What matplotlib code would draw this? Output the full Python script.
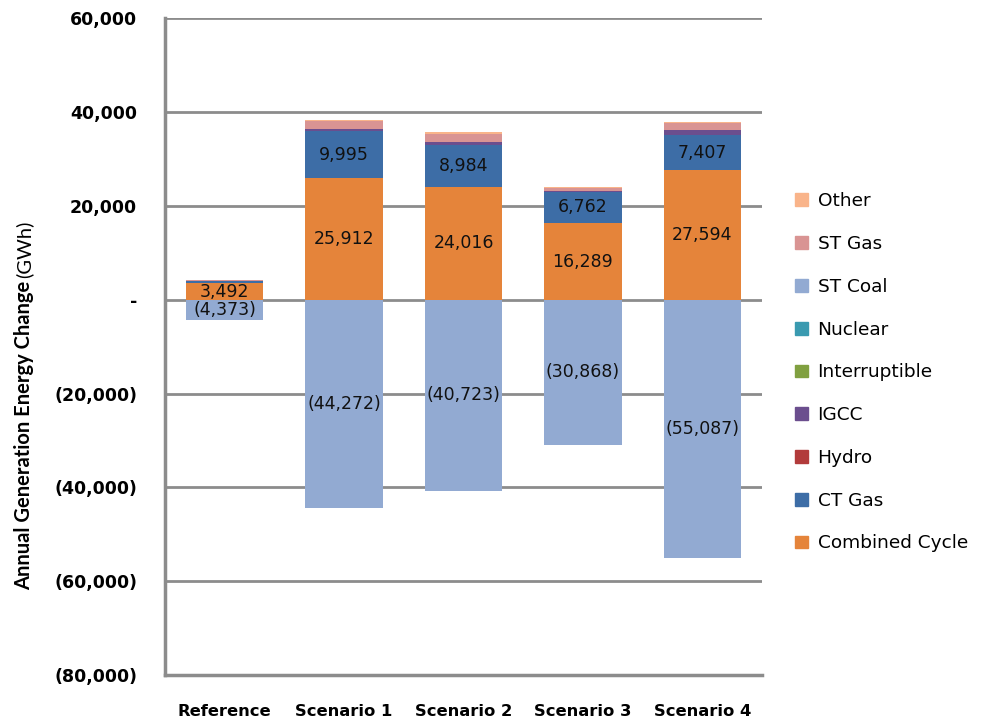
import numpy as np
import matplotlib.pyplot as plt
from matplotlib.ticker import FuncFormatter
from matplotlib.patches import Patch

plt.rcParams['font.family'] = ['DejaVu Sans']

scenarios = ['Reference', 'Scenario 1', 'Scenario 2', 'Scenario 3', 'Scenario 4']

# stacking order from the bottom up (positive side)
series = ['Combined Cycle', 'CT Gas', 'Hydro', 'IGCC', 'Interruptible',
          'Nuclear', 'ST Coal', 'ST Gas', 'Other']
combined_cycle = [3492, 25912, 24016, 16289, 27594]
ct_gas = [600, 9995, 8984, 6762, 7407]
hydro = [0, 0, 0, 0, 0]
igcc = [0, 500, 550, 200, 1200]
interruptible = [0, 0, 0, 0, 0]
nuclear = [0, 0, 0, 0, 0]
st_coal = [-4373, -44272, -40723, -30868, -55087]
st_gas = [200, 1600, 1800, 500, 1400]
other = [0, 200, 350, 300, 300]

colors = {
    'Combined Cycle': '#E5843A',
    'CT Gas': '#3D6DA6',
    'Hydro': '#B23B3B',
    'IGCC': '#6B4E8E',
    'Interruptible': '#80A040',
    'Nuclear': '#3A9AB0',
    'ST Coal': '#92AAD2',
    'ST Gas': '#D99493',
    'Other': '#F9B48A',
}
values = {
    'Combined Cycle': combined_cycle, 'CT Gas': ct_gas, 'Hydro': hydro,
    'IGCC': igcc, 'Interruptible': interruptible, 'Nuclear': nuclear,
    'ST Coal': st_coal, 'ST Gas': st_gas, 'Other': other,
}
labelled = ['Combined Cycle', 'CT Gas', 'ST Coal']


def fmt(v, pos=None):
    if v == 0:
        return '-'
    if v < 0:
        return '({:,.0f})'.format(-v)
    return '{:,.0f}'.format(v)


fig = plt.figure(figsize=(9.82, 7.26), dpi=100)
ax = fig.add_axes([0.168, 0.070, 0.608, 0.905])

x = np.arange(len(scenarios))
width = 0.65
pos_base = np.zeros(len(scenarios))
neg_base = np.zeros(len(scenarios))

for name in series:
    v = np.array(values[name], dtype=float)
    bottom = np.where(v >= 0, pos_base, neg_base)
    bars = ax.bar(x, v, width, bottom=bottom, color=colors[name], zorder=3)
    if name in labelled:
        for i, b in enumerate(bars):
            if abs(v[i]) >= 2000:
                ax.text(b.get_x() + b.get_width() / 2, bottom[i] + v[i] / 2,
                        fmt(v[i]), ha='center', va='center',
                        fontsize=12.5, color='#111111', zorder=4)
    pos_base = pos_base + np.where(v > 0, v, 0)
    neg_base = neg_base + np.where(v < 0, v, 0)

ax.set_xlim(-0.5, 4.5)
ax.set_ylim(-80000, 60000)
ax.set_yticks(np.arange(-80000, 60001, 20000))
ax.yaxis.set_major_formatter(FuncFormatter(fmt))
ax.set_xticks(x)
ax.set_xticklabels(scenarios, fontweight='bold', fontsize=11.8)
for t in ax.get_yticklabels():
    t.set_fontweight('bold')
    t.set_fontsize(12.5)
ax.tick_params(axis='y', length=0, pad=20)
ax.tick_params(axis='x', length=0, pad=21)

ax.grid(axis='y', color='#8C8C8C', linewidth=2, zorder=1)
for s in ['top', 'right']:
    ax.spines[s].set_visible(False)
for s in ['left', 'bottom']:
    ax.spines[s].set_color('#8C8C8C')
    ax.spines[s].set_linewidth(2.5)

# y label: bold part plus regular "(GWh)"
lab1 = fig.text(0.0245, 1 - 590 / 726, 'Annual Generation Energy Change',
                rotation=90, ha='center', va='bottom', fontsize=14.5,
                fontweight='bold', family='Lato')
fig.canvas.draw()
bb = lab1.get_window_extent().transformed(fig.transFigure.inverted())
fig.text(0.0245, bb.y1 + 0.004, '(GWh)', rotation=90, ha='center', va='bottom',
         fontsize=14.5, family='Lato')

handles = [Patch(color=colors[n], label=n) for n in series[::-1]]
fig.legend(handles=handles, loc='center left', bbox_to_anchor=(0.793, 0.487),
           frameon=False, fontsize=13.3, labelspacing=1.34,
           handlelength=0.7, handleheight=0.7, handletextpad=0.5)

fig.savefig('out.png', dpi=100)
